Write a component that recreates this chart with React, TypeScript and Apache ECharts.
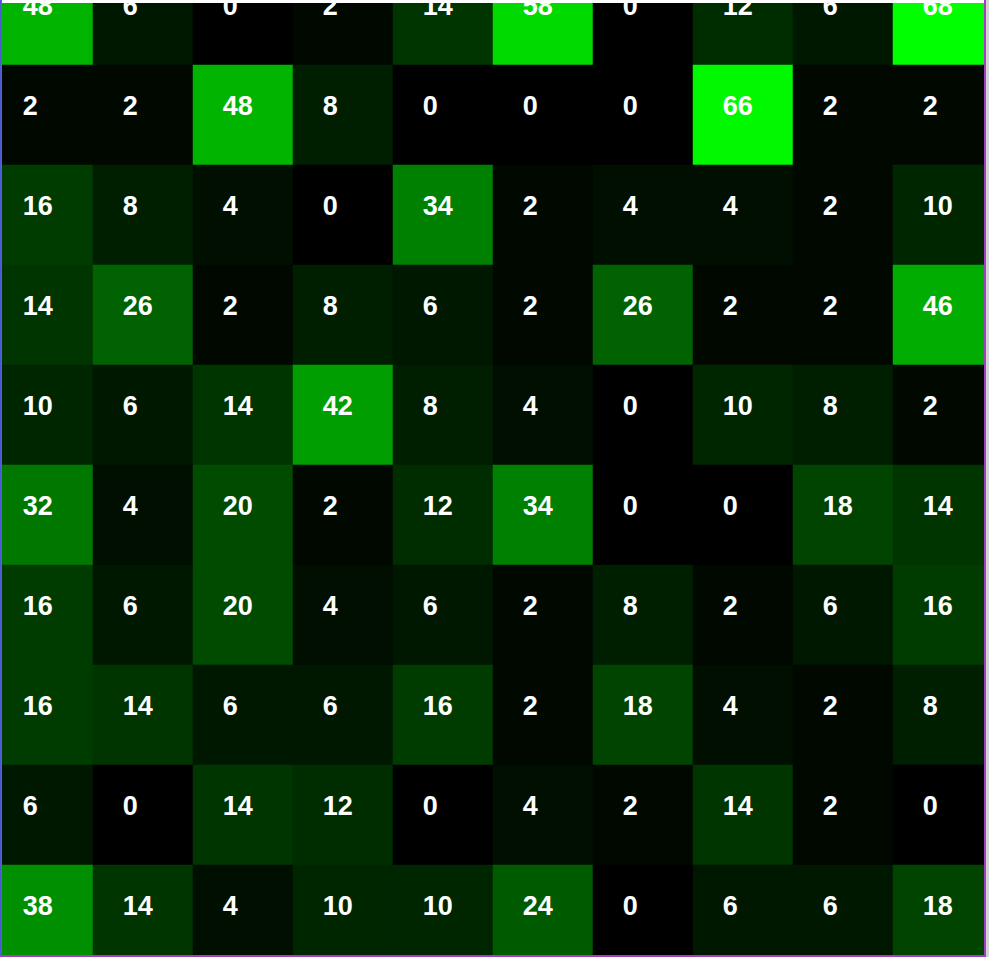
import React, { useEffect, useRef } from "react";
import * as echarts from "echarts";

const columns = ["0", "1", "2", "3", "4", "5", "6", "7", "8", "9"];
const rowLabels = ["0", "1", "2", "3", "4", "5", "6", "7", "8", "9"];
const row0 = [48, 6, 0, 2, 14, 58, 0, 12, 6, 68];
const row1 = [2, 2, 48, 8, 0, 0, 0, 66, 2, 2];
const row2 = [16, 8, 4, 0, 34, 2, 4, 4, 2, 10];
const row3 = [14, 26, 2, 8, 6, 2, 26, 2, 2, 46];
const row4 = [10, 6, 14, 42, 8, 4, 0, 10, 8, 2];
const row5 = [32, 4, 20, 2, 12, 34, 0, 0, 18, 14];
const row6 = [16, 6, 20, 4, 6, 2, 8, 2, 6, 16];
const row7 = [16, 14, 6, 6, 16, 2, 18, 4, 2, 8];
const row8 = [6, 0, 14, 12, 0, 4, 2, 14, 2, 0];
const row9 = [38, 14, 4, 10, 10, 24, 0, 6, 6, 18];
const rows = [row0, row1, row2, row3, row4, row5, row6, row7, row8, row9];
const colorMin = 0;
const colorMax = 68;

export default function App() {
  const ref = useRef<HTMLDivElement>(null);
  useEffect(() => {
    if (!ref.current) return;
    const chart = echarts.init(ref.current, null, { renderer: "svg" });
    const data: number[][] = [];
    rows.forEach((r, yi) => r.forEach((v, xi) => data.push([xi, yi, v])));
    chart.setOption({
      animation: false,
      grid: { left: 0, top: 0, right: 0, bottom: 0, outerBoundsMode: "none" },
      xAxis: { type: "category", data: columns, show: false },
      yAxis: { type: "category", data: rowLabels, show: false, inverse: true },
      visualMap: {
        show: false,
        min: colorMin,
        max: colorMax,
        dimension: 2,
        inRange: { color: ["#000000", "#00ff00"] },
      },
      series: [
        {
          type: "heatmap",
          data,
          itemStyle: { borderWidth: 0 },
          emphasis: { disabled: true },
          label: {
            show: true,
            position: [30, 41],
            align: "left",
            verticalAlign: "middle",
            color: "#ffffff",
            fontFamily: "'Liberation Sans', Arial, sans-serif",
            fontWeight: "bold",
            fontSize: 27,
            formatter: (p: any) => String(p.value[2]),
          },
        },
      ],
    });
    return () => chart.dispose();
  }, []);

  return (
    <div style={{ position: "fixed", left: 0, top: 0, width: 989, height: 957, background: "#ffffff", overflow: "hidden" }}>
      <div style={{ position: "absolute", left: 2, top: 3, width: 982, height: 952, overflow: "hidden" }}>
        <div style={{ position: "absolute", left: -9, top: -38, width: 1000, height: 1000 }}>
          <div ref={ref} style={{ width: 1000, height: 1000 }} />
        </div>
      </div>
      <div style={{ position: "absolute", left: 0, top: 0, width: 1, height: 957, background: "#4a5ad0" }} />
      <div style={{ position: "absolute", left: 1, top: 0, width: 1, height: 957, background: "#a040c0" }} />
      <div style={{ position: "absolute", left: 984, top: 0, width: 2, height: 957, background: "#a040c0" }} />
      <div style={{ position: "absolute", left: 986, top: 0, width: 3, height: 957, background: "#d4d4d4" }} />
      <div style={{ position: "absolute", left: 0, top: 955, width: 986, height: 2, background: "#a040c0" }} />
    </div>
  );
}
